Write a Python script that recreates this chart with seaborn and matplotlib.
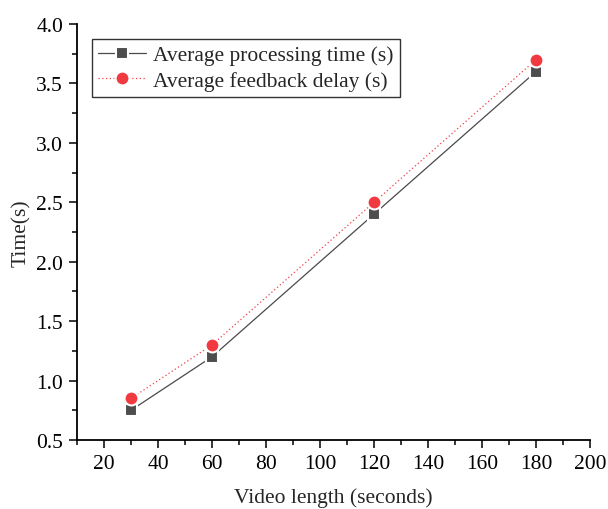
import matplotlib
matplotlib.use("Agg")
import matplotlib.pyplot as plt
import seaborn as sns
import pandas as pd
from matplotlib.ticker import MultipleLocator

video_length = [30, 60, 120, 180]
processing_time = [0.75, 1.2, 2.4, 3.6]
feedback_delay = [0.85, 1.3, 2.5, 3.7]
label_proc = "Average processing time (s)"
label_fb = "Average feedback delay (s)"

sns.set_style("ticks")
plt.rcParams['font.family'] = ['Liberation Serif', 'DejaVu Serif']
plt.rcParams['mathtext.fontset'] = 'stix'

fig = plt.figure(figsize=(6.08, 5.10), dpi=100)
ax = fig.add_axes([77/608, 69/510, (590-77)/608, (441-25)/510])

df1 = pd.DataFrame({"x": video_length, "y": processing_time})
df2 = pd.DataFrame({"x": video_length, "y": feedback_delay})

sns.lineplot(data=df1, x="x", y="y", ax=ax, color="#4a4a4a", lw=0.9,
             marker="s", markersize=9, markerfacecolor="#4d4d4d",
             markeredgecolor="white", markeredgewidth=1.5, label=label_proc)
sns.lineplot(data=df2, x="x", y="y", ax=ax, color="#f04048", lw=0.9,
             linestyle=(0, (1, 2)),
             marker="o", markersize=10, markerfacecolor="#f03a40",
             markeredgecolor="white", markeredgewidth=1.5, label=label_fb)

ax.set_xlim(10, 200)
ax.set_ylim(0.5, 4.0)
ax.xaxis.set_major_locator(MultipleLocator(20))
ax.xaxis.set_minor_locator(MultipleLocator(10))
ax.yaxis.set_major_locator(MultipleLocator(0.5))
ax.yaxis.set_minor_locator(MultipleLocator(0.25))
ax.set_xticks([20, 40, 60, 80, 100, 120, 140, 160, 180, 200])
ax.tick_params(which='major', direction='out', length=6, width=1.1, labelsize=15.5,
               color='black', labelcolor='black', pad=4)
ax.tick_params(which='minor', direction='out', length=3.5, width=1.1, color='black')
for s in ['top', 'right']:
    ax.spines[s].set_visible(False)
for s in ['left', 'bottom']:
    ax.spines[s].set_linewidth(1.3)
    ax.spines[s].set_color('black')

ax.set_xlabel("Video length (seconds)", fontsize=15.5, labelpad=10)
ax.set_ylabel("Time(s)", fontsize=15.5, labelpad=4)

leg = ax.legend(loc='upper left', bbox_to_anchor=(0.029, 0.965), fontsize=15.5,
                frameon=True, fancybox=False, edgecolor='black',
                handlelength=2.2, handletextpad=0.35, borderpad=0.3,
                borderaxespad=0, labelspacing=0.25)
leg.get_frame().set_linewidth(1.0)
leg._legend_box.align = "left"

fig.savefig("out.png", dpi=100)
